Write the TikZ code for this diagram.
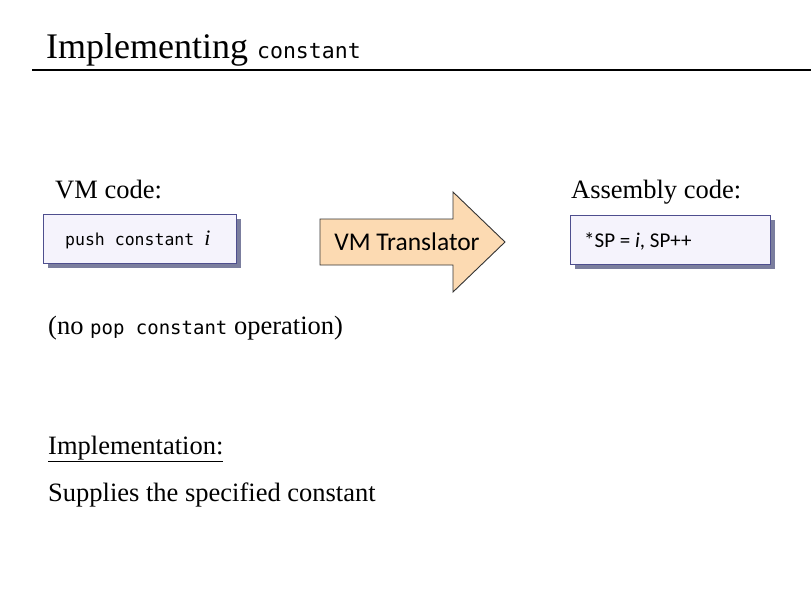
\documentclass[tikz,border=0pt]{standalone}
\usepackage{fontspec}
\setmainfont{Liberation Serif}
\setmonofont{DejaVu Sans Mono}
\newfontfamily\calfont{Carlito}
\usetikzlibrary{shadows}
\definecolor{boxborder}{HTML}{4E4E8E}
\definecolor{boxfill}{HTML}{F5F3FC}
\definecolor{shadowc}{HTML}{5A5E86}
\definecolor{arrowfill}{HTML}{FCDAB2}
\definecolor{arrowdraw}{HTML}{333333}
\tikzset{
  codebox/.style={draw=boxborder, line width=1.3pt, fill=boxfill, anchor=north west,
    inner sep=0pt, drop shadow={shadow xshift=4pt, shadow yshift=-4pt, fill=shadowc, opacity=0.8}},
  label/.style={anchor=base west, inner sep=0pt, font=\fontsize{26.5}{30}\selectfont},
}
\begin{document}
\begin{tikzpicture}[x=1pt,y=-1pt]
\useasboundingbox (0,0) rectangle (811,595);
% title
\node[anchor=base west, inner sep=0pt, font=\fontsize{36}{40}\selectfont] (title) at (46,58)
  {Implementing {\fontsize{21.5}{24}\selectfont\ttfamily constant}};
\coordinate (rl) at (32,70);
\coordinate (rr) at (811,70);
\draw[line width=1.3pt] (rl) -- (rr);
% VM code
\node[label] (vmlab) at (55,198) {VM code:};
\node[codebox, minimum width=193pt, minimum height=49pt] (vmbox) at (43,214) {};
\node[anchor=west, inner sep=0pt, font=\fontsize{16.5}{20}\selectfont\ttfamily] (vmtxt) at (65,240)
  {push constant \textit{\rmfamily\fontsize{22}{24}\selectfont i}};
% arrow
\draw[arrowdraw, line width=0.9pt, fill=arrowfill]
  (320,219) -- (453,219) -- (453,192) -- (505,242) -- (453,292) -- (453,265) -- (320,265) -- cycle;
\node[font=\calfont\fontsize{25.5}{28}\selectfont, inner sep=0pt] (arrtxt) at (407,242) {VM Translator};
% assembly
\node[label] (aslab) at (571,198) {Assembly code:};
\node[codebox, minimum width=200pt, minimum height=49pt] (asbox) at (570,215) {};
\node[anchor=west, inner sep=0pt, font=\calfont\fontsize{21}{24}\selectfont] (astxt) at (584,241)
  {*SP = \textit{i}, SP++};
% lower text
\node[label] (nopop) at (48,334)
  {(no {\fontsize{19}{22}\selectfont\ttfamily pop constant} operation)};
\node[label] (impl) at (48,454) {\underline{Implementation:}};
\node[label] (sup) at (48,501) {Supplies the specified constant};
\end{tikzpicture}
\end{document}
